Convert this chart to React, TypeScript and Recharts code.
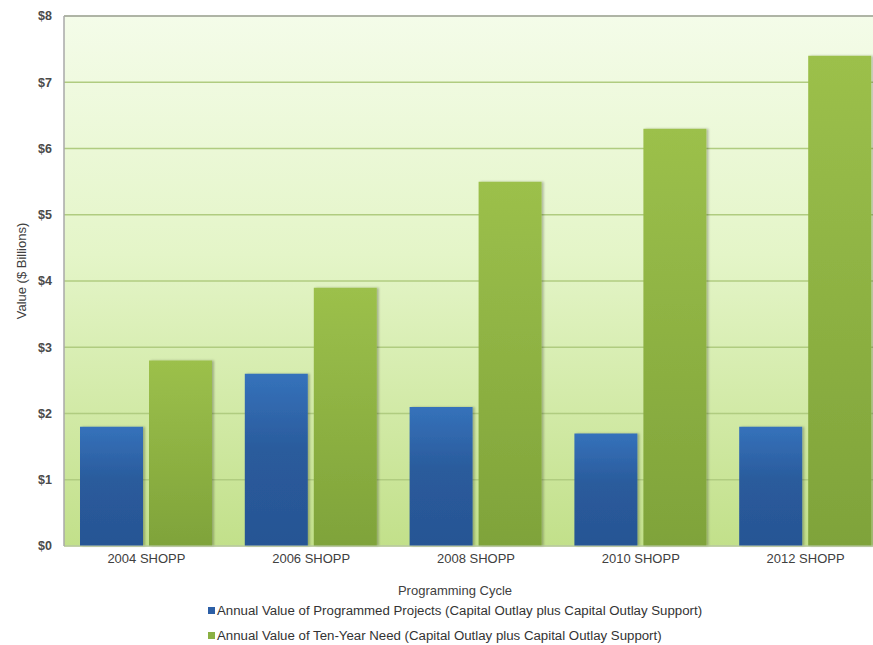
import React from 'react';
import { BarChart, Bar, XAxis, YAxis, CartesianGrid, Legend, Label, ReferenceLine } from 'recharts';

const categories = ['2004 SHOPP', '2006 SHOPP', '2008 SHOPP', '2010 SHOPP', '2012 SHOPP'];
const programmed = [1.8, 2.6, 2.1, 1.7, 1.8];
const tenYearNeed = [2.8, 3.9, 5.5, 6.3, 7.4];
const yTicks = [0, 1, 2, 3, 4, 5, 6, 7, 8];
const seriesNames = [
  'Annual Value of Programmed Projects (Capital Outlay plus Capital Outlay Support)',
  'Annual Value of Ten-Year Need (Capital Outlay plus Capital Outlay Support)',
];

const data = categories.map((c, i) => ({ name: c, programmed: programmed[i], need: tenYearNeed[i] }));

const FONT = 'Liberation Sans, Arial, sans-serif';

const renderLegend = () => (
  <div style={{ fontFamily: FONT, fontSize: 13.25, color: '#333', textAlign: 'left' }}>
    {seriesNames.map((n, i) => (
      <div key={n} style={{ display: 'flex', alignItems: 'center', height: 25, whiteSpace: 'nowrap' }}>
        <span
          style={{
            display: 'inline-block',
            width: 7,
            height: 7,
            marginRight: 2,
            background: i === 0 ? '#2c5fa6' : '#8ab043',
          }}
        />
        <span>{n}</span>
      </div>
    ))}
  </div>
);

export default function App() {
  return (
    <div style={{ position: 'absolute', left: 0, top: 0, width: 873, height: 645, overflow: 'hidden', background: '#fff' }}>
      <BarChart
        width={888}
        height={645}
        data={data}
        margin={{ top: 16, right: 0, bottom: 44, left: 0 }}
        barSize={63}
        barGap={6}
      >
        <defs>
          <linearGradient id="bgGrad" x1="0" y1="0" x2="0" y2="1">
            <stop offset="0%" stopColor="#f4fce9" />
            <stop offset="45%" stopColor="#e4f5c8" />
            <stop offset="100%" stopColor="#c2e08a" />
          </linearGradient>
          <linearGradient id="blueGrad" x1="0" y1="0" x2="0" y2="1">
            <stop offset="0%" stopColor="#3572bb" />
            <stop offset="45%" stopColor="#2a5b9c" />
            <stop offset="100%" stopColor="#275594" />
          </linearGradient>
          <linearGradient id="greenGrad" x1="0" y1="0" x2="0" y2="1">
            <stop offset="0%" stopColor="#9cc04b" />
            <stop offset="100%" stopColor="#7fa33a" />
          </linearGradient>
          <filter id="shadow" x="-10%" y="-10%" width="130%" height="120%">
            <feDropShadow dx="2" dy="0" stdDeviation="1.2" floodColor="#000" floodOpacity="0.25" />
          </filter>
        </defs>
        <CartesianGrid vertical={false} stroke="#b0cc80" strokeWidth={1.4} fill="url(#bgGrad)" />
        <XAxis
          dataKey="name"
          tickLine={false}
          axisLine={{ stroke: '#bfcab0' }}
          tick={{ fill: '#404040', fontSize: 13, fontFamily: FONT }}
          height={55}
          interval={0}
        >
          <Label
            content={(props: any) => {
              const vb = props.viewBox || {};
              return (
                <text
                  x={455}
                  y={(vb.y || 546) + 49}
                  textAnchor="middle"
                  fill="#404040"
                  fontSize={13}
                  fontFamily={FONT}
                >
                  Programming Cycle
                </text>
              );
            }}
          />
        </XAxis>
        <YAxis
          width={64}
          domain={[0, 8]}
          ticks={yTicks}
          tickFormatter={(v: number) => `$${v}`}
          tickLine={false}
          axisLine={{ stroke: '#a8a8a8', strokeWidth: 1.5 }}
          tick={{ fill: '#4a4a4a', fontSize: 12.5, fontFamily: FONT, fontWeight: 'bold' }}
          tickMargin={6}
          interval={0}
        >
          <Label
            content={() => (
              <text
                x={26}
                y={271}
                textAnchor="middle"
                transform="rotate(-90 26 271)"
                fill="#404040"
                fontSize={13}
                fontFamily={FONT}
              >
                Value ($ Billions)
              </text>
            )}
          />
        </YAxis>
        <ReferenceLine y={8} stroke="#a8a8a8" strokeWidth={1.5} />
        <Legend
          content={renderLegend}
          layout="vertical"
          verticalAlign="middle"
          align="center"
          wrapperStyle={{ left: 208, top: 598, width: 620 }}
        />
        <Bar dataKey="programmed" name={seriesNames[0]} fill="url(#blueGrad)" isAnimationActive={false} filter="url(#shadow)" />
        <Bar dataKey="need" name={seriesNames[1]} fill="url(#greenGrad)" isAnimationActive={false} filter="url(#shadow)" />
      </BarChart>
    </div>
  );
}
